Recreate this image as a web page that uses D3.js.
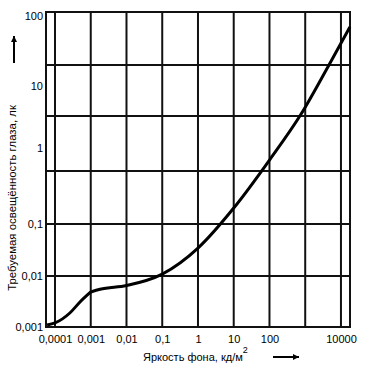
<!DOCTYPE html>
<html>
<head>
<meta charset="utf-8">
<script src="https://cdn.jsdelivr.net/npm/d3@7"></script>
<style>
  html, body { margin: 0; padding: 0; background: #fff; }
  svg { display: block; }
  text { font-family: "Liberation Sans", Arial, sans-serif; fill: #000; }
</style>
</head>
<body>
<svg id="chart" width="368" height="368"></svg>
<script>
// ---- data ----
const luminance = [0.00006, 0.0001, 0.00026, 0.0005, 0.001, 0.00182, 0.01, 0.1, 1, 10, 100, 760, 4620, 17800];
const illuminance = [0.00109, 0.0012, 0.00188, 0.00309, 0.00486, 0.00548, 0.00651, 0.0109, 0.0345, 0.1624, 0.695, 3.5, 20, 69.6];
const kneeIndex = 4;

const xGrid = [0.0001, 0.001, 0.01, 0.1, 1, 10, 100, 1000, 10000];
const xTicks = [0.0001, 0.001, 0.01, 0.1, 1, 10, 100, 10000];
const xTickLabels = ["0,0001", "0,001", "0,01", "0,1", "1", "10", "100", "10000"];

const yTicks = [0.001, 0.01, 0.1, 1, 10, 100];
const yTickLabels = ["0,001", "0,01", "0,1", "1", "10", "100"];
const yGrid = [0.01, 0.1, 0.5, 3.28, 20];

const xTitle = "Яркость фона, кд/м";
const xTitleSup = "2";
const yTitle = "Требуемая освещённость глаза, лк";

// ---- scales ----
const svg = d3.select("#chart");
const x = d3.scaleLog().domain([5.6e-5, 1.79e4]).range([46, 350]);
const y = d3.scaleLog()
  .domain([0.001, 0.01, 0.1, 1, 10, 100, 114])
  .range([327, 276, 224, 148, 86, 16, 12]);

const [x0, x1] = x.range();
const yB = 327, yT = 12;

// grid
svg.append("g").selectAll("line").data(xGrid).join("line")
  .attr("x1", d => x(d)).attr("x2", d => x(d))
  .attr("y1", yT).attr("y2", yB)
  .attr("stroke", "#111").attr("stroke-width", 2);

svg.append("g").selectAll("line").data(yGrid).join("line")
  .attr("x1", x0).attr("x2", x1)
  .attr("y1", d => y(d)).attr("y2", d => y(d))
  .attr("stroke", "#111").attr("stroke-width", 2);

// frame
svg.append("rect")
  .attr("x", x0).attr("y", yT)
  .attr("width", x1 - x0).attr("height", yB - yT)
  .attr("fill", "none").attr("stroke", "#111").attr("stroke-width", 2);

// curve
const pts = luminance.map((v, i) => [v, illuminance[i]]);
const line = d3.line().x(d => x(d[0])).y(d => y(d[1])).curve(d3.curveMonotoneX);
[pts.slice(0, kneeIndex + 1), pts.slice(kneeIndex)].forEach(seg => {
  svg.append("path").attr("d", line(seg))
    .attr("fill", "none").attr("stroke", "#000")
    .attr("stroke-width", 3).attr("stroke-linejoin", "round");
});

// axes
const xAxis = d3.axisBottom(x).tickValues(xTicks)
  .tickFormat((d, i) => xTickLabels[i]).tickSize(0).tickPadding(8);
const gx = svg.append("g").attr("transform", `translate(0,${yB})`).call(xAxis);
gx.select(".domain").remove();
gx.selectAll("text").attr("font-size", 11).attr("font-family", "Liberation Sans, Arial, sans-serif");

const yAxis = d3.axisLeft(y).tickValues(yTicks)
  .tickFormat((d, i) => yTickLabels[i]).tickSize(0).tickPadding(3);
const gy = svg.append("g").attr("transform", `translate(${x0},0)`).call(yAxis);
gy.select(".domain").remove();
gy.selectAll("text").attr("font-size", 11).attr("font-family", "Liberation Sans, Arial, sans-serif");

// titles
const xt = svg.append("text").attr("x", 143).attr("y", 361)
  .attr("font-size", 11);
xt.append("tspan").text(xTitle);
xt.append("tspan").text(xTitleSup).attr("font-size", 9).attr("dy", -8);

svg.append("text")
  .attr("transform", "translate(16,198) rotate(-90)")
  .attr("text-anchor", "middle")
  .attr("font-size", 11.4)
  .text(yTitle);

// arrows
const defs = svg.append("defs");
defs.append("marker").attr("id", "ah").attr("viewBox", "0 0 10 10")
  .attr("refX", 10).attr("refY", 5).attr("markerWidth", 7).attr("markerHeight", 6)
  .attr("markerUnits", "userSpaceOnUse").attr("orient", "auto")
  .append("path").attr("d", "M0,0 L10,5 L0,10 Z").attr("fill", "#000");

svg.append("line").attr("x1", 14).attr("y1", 63).attr("x2", 14).attr("y2", 36)
  .attr("stroke", "#000").attr("stroke-width", 2).attr("marker-end", "url(#ah)");
svg.append("line").attr("x1", 273).attr("y1", 357).attr("x2", 299).attr("y2", 357)
  .attr("stroke", "#000").attr("stroke-width", 2).attr("marker-end", "url(#ah)");
</script>
</body>
</html>
